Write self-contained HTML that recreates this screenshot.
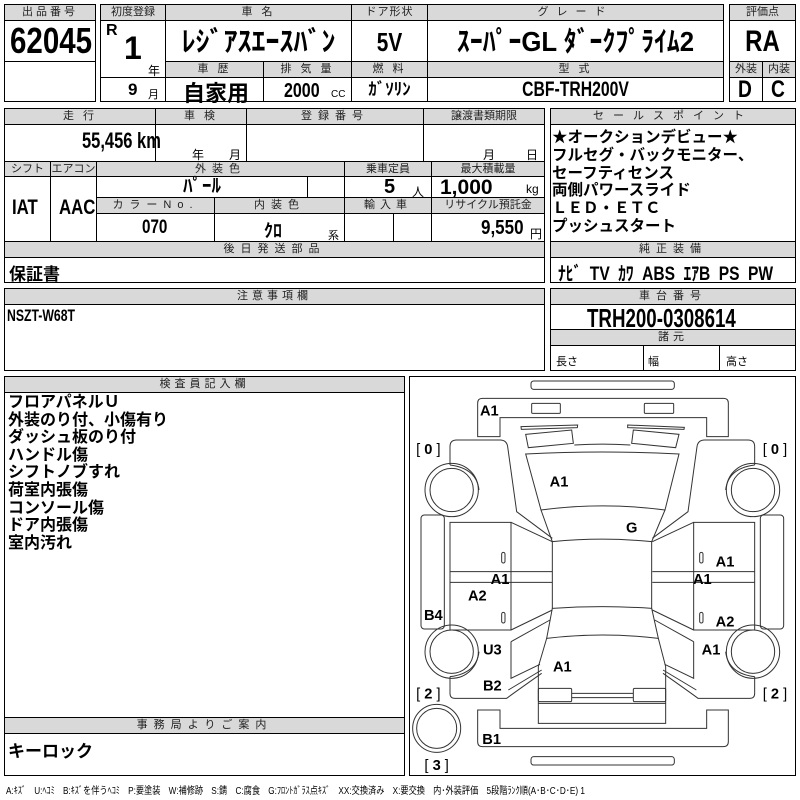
<!DOCTYPE html>
<html><head><meta charset="utf-8">
<style>
*{margin:0;padding:0;box-sizing:border-box}
body{width:800px;height:800px;background:#fff;position:relative;overflow:hidden;font-family:"Liberation Sans","Noto Sans CJK JP",sans-serif;color:#000}
.b{position:absolute;border:1px solid #000}
.o{position:absolute;border:1.5px solid #000}
.h{position:absolute;background:#d9d9d9;border:1px solid #000;font-size:11px;text-align:center;letter-spacing:3px;line-height:15px;color:#222}
.t{position:absolute;font-weight:bold;white-space:nowrap}
.n{font-family:"Liberation Sans","Noto Sans CJK JP",sans-serif;font-weight:bold;transform:scaleX(0.8);transform-origin:left center}
.s{font-size:11px;font-weight:normal;position:absolute}
.L{position:absolute;font-weight:bold;font-size:16px;line-height:17.6px}
.c{position:absolute;font-weight:bold;white-space:nowrap;text-align:center}
</style></head><body>

<!-- block 1 -->
<div class="o" style="left:4px;top:4px;width:92px;height:98px"></div>
<div class="h" style="left:4px;top:4px;width:92px;height:17px">出品番号</div>
<div class="b" style="left:4px;top:20px;width:92px;height:42px"></div>
<div class="t n" style="left:10px;top:21px;font-size:36px;line-height:40px;transform:scaleX(0.82)">62045</div>

<!-- block 2 -->
<div class="o" style="left:100px;top:4px;width:624px;height:98px"></div>
<div class="h" style="left:100px;top:4px;width:66px;height:17px;letter-spacing:0">初度登録</div>
<div class="h" style="left:165px;top:4px;width:187px;height:17px">車 名</div>
<div class="h" style="left:351px;top:4px;width:77px;height:17px;letter-spacing:1px">ドア形状</div>
<div class="h" style="left:427px;top:4px;width:297px;height:17px;letter-spacing:8px">グレード</div>
<div class="b" style="left:100px;top:20px;width:66px;height:82px"></div>
<div class="b" style="left:165px;top:20px;width:187px;height:42px"></div>
<div class="b" style="left:351px;top:20px;width:77px;height:42px"></div>
<div class="b" style="left:427px;top:20px;width:297px;height:42px"></div>
<div class="b" style="left:100px;top:77px;width:66px;height:25px"></div>
<div class="h" style="left:165px;top:61px;width:99px;height:17px">車 歴</div>
<div class="h" style="left:263px;top:61px;width:89px;height:17px">排 気 量</div>
<div class="h" style="left:351px;top:61px;width:77px;height:17px">燃 料</div>
<div class="h" style="left:427px;top:61px;width:297px;height:17px">型 式</div>
<div class="b" style="left:165px;top:77px;width:99px;height:25px"></div>
<div class="b" style="left:263px;top:77px;width:89px;height:25px"></div>
<div class="b" style="left:351px;top:77px;width:77px;height:25px"></div>
<div class="b" style="left:427px;top:77px;width:297px;height:25px"></div>
<div class="t" style="left:106px;top:22px;font-size:16px">R</div>
<div class="t" style="left:124px;top:30px;font-size:32px">1</div>
<div class="s" style="left:148px;top:62px;font-size:12px">年</div>
<div class="t" style="left:128px;top:80px;font-size:17px">9</div>
<div class="s" style="left:148px;top:86px;font-size:11px">月</div>
<div class="c" style="left:165px;top:22px;width:187px;font-size:28px;line-height:40px">ﾚｼﾞｱｽｴｰｽﾊﾞﾝ</div>
<div class="c" style="left:351px;top:22px;width:77px;font-size:26px;line-height:40px;transform:scaleX(0.8)">5V</div>
<div class="c" style="left:427px;top:22px;width:297px;font-size:28px;line-height:40px;transform:scaleX(0.92)">ｽｰﾊﾟｰGL ﾀﾞｰｸﾌﾟﾗｲﾑ2</div>
<div class="t" style="left:183px;top:76px;font-size:22px">自家用</div>
<div class="t" style="left:284px;top:80px;font-size:20px;transform:scaleX(0.8);transform-origin:left">2000</div>
<div class="s" style="left:331px;top:89px;font-size:10px">CC</div>
<div class="c" style="left:351px;top:78px;width:77px;font-size:17px;line-height:24px">ｶﾞｿﾘﾝ</div>
<div class="c" style="left:427px;top:78px;width:297px;font-size:21px;line-height:24px;transform:scaleX(0.75)">CBF-TRH200V</div>

<!-- block 3 -->
<div class="o" style="left:729px;top:4px;width:67px;height:98px"></div>
<div class="h" style="left:729px;top:4px;width:67px;height:17px;letter-spacing:0">評価点</div>
<div class="b" style="left:729px;top:20px;width:67px;height:42px"></div>
<div class="c" style="left:729px;top:22px;width:67px;font-size:30px;line-height:40px;transform:scaleX(0.8)">RA</div>
<div class="h" style="left:729px;top:61px;width:34px;height:17px;letter-spacing:0">外装</div>
<div class="h" style="left:762px;top:61px;width:34px;height:17px;letter-spacing:0">内装</div>
<div class="b" style="left:729px;top:77px;width:34px;height:25px"></div>
<div class="b" style="left:762px;top:77px;width:34px;height:25px"></div>
<div class="t" style="left:738px;top:76px;font-size:24px;transform:scaleX(0.8);transform-origin:left">D</div>
<div class="t" style="left:771px;top:76px;font-size:24px;transform:scaleX(0.8);transform-origin:left">C</div>

<!-- block row 2 -->
<div class="o" style="left:4px;top:108px;width:541px;height:175px"></div>
<div class="h" style="left:4px;top:108px;width:152px;height:17px">走 行</div>
<div class="h" style="left:155px;top:108px;width:92px;height:17px">車 検</div>
<div class="h" style="left:246px;top:108px;width:178px;height:17px;letter-spacing:6px">登録番号</div>
<div class="h" style="left:423px;top:108px;width:122px;height:17px;letter-spacing:0">譲渡書類期限</div>
<div class="b" style="left:4px;top:124px;width:152px;height:38px"></div>
<div class="b" style="left:155px;top:124px;width:92px;height:38px"></div>
<div class="b" style="left:246px;top:124px;width:178px;height:38px"></div>
<div class="b" style="left:423px;top:124px;width:122px;height:38px"></div>
<div class="t" style="left:82px;top:128px;font-size:22px;transform:scaleX(0.75);transform-origin:left">55,456 km</div>
<div class="s" style="left:192px;top:146px;font-size:12px">年</div>
<div class="s" style="left:229px;top:146px;font-size:12px">月</div>
<div class="s" style="left:483px;top:146px;font-size:12px">月</div>
<div class="s" style="left:526px;top:146px;font-size:12px">日</div>

<div class="h" style="left:4px;top:161px;width:47px;height:16px;letter-spacing:0">シフト</div>
<div class="h" style="left:50px;top:161px;width:47px;height:16px;letter-spacing:0">エアコン</div>
<div class="h" style="left:96px;top:161px;width:249px;height:16px;letter-spacing:6px">外装色</div>
<div class="h" style="left:344px;top:161px;width:88px;height:16px;letter-spacing:0">乗車定員</div>
<div class="h" style="left:431px;top:161px;width:114px;height:16px;letter-spacing:0">最大積載量</div>
<div class="b" style="left:4px;top:176px;width:47px;height:66px"></div>
<div class="b" style="left:50px;top:176px;width:47px;height:66px"></div>
<div class="b" style="left:96px;top:176px;width:212px;height:22px"></div>
<div class="b" style="left:307px;top:176px;width:38px;height:22px"></div>
<div class="b" style="left:344px;top:176px;width:88px;height:22px"></div>
<div class="b" style="left:431px;top:176px;width:114px;height:22px"></div>
<div class="t" style="left:12px;top:196px;font-size:21px;transform:scaleX(0.8);transform-origin:left">IAT</div>
<div class="t" style="left:59px;top:196px;font-size:21px;transform:scaleX(0.8);transform-origin:left">AAC</div>
<div class="c" style="left:96px;top:176px;width:212px;font-size:19px;line-height:22px">ﾊﾟｰﾙ</div>
<div class="t" style="left:384px;top:176px;font-size:20px">5</div>
<div class="s" style="left:412px;top:183px;font-size:12px">人</div>
<div class="t" style="left:440px;top:176px;font-size:21px">1,000</div>
<div class="s" style="left:526px;top:182px;font-size:12px">kg</div>

<div class="h" style="left:96px;top:197px;width:119px;height:17px;letter-spacing:6px">カラーNo.</div>
<div class="h" style="left:214px;top:197px;width:131px;height:17px;letter-spacing:6px">内装色</div>
<div class="h" style="left:344px;top:197px;width:88px;height:17px;letter-spacing:5px">輸入車</div>
<div class="h" style="left:431px;top:197px;width:114px;height:17px;letter-spacing:0">リサイクル預託金</div>
<div class="b" style="left:96px;top:213px;width:119px;height:29px"></div>
<div class="b" style="left:214px;top:213px;width:131px;height:29px"></div>
<div class="b" style="left:344px;top:213px;width:50px;height:29px"></div>
<div class="b" style="left:393px;top:213px;width:39px;height:29px"></div>
<div class="b" style="left:431px;top:213px;width:114px;height:29px"></div>
<div class="t" style="left:142px;top:217px;font-size:19px;transform:scaleX(0.8);transform-origin:left">070</div>
<div class="t" style="left:264px;top:217px;font-size:18px">ｸﾛ</div>
<div class="s" style="left:328px;top:227px;font-size:11px">系</div>
<div class="t" style="left:481px;top:217px;font-size:20px;transform:scaleX(0.85);transform-origin:left">9,550</div>
<div class="s" style="left:530px;top:225px;font-size:12px">円</div>
<div class="h" style="left:4px;top:241px;width:541px;height:17px;letter-spacing:6px">後日発送部品</div>
<div class="t" style="left:9px;top:260px;font-size:17px">保証書</div>

<!-- sales point -->
<div class="o" style="left:550px;top:108px;width:246px;height:175px"></div>
<div class="h" style="left:550px;top:108px;width:246px;height:17px;letter-spacing:9px">セールスポイント</div>
<div class="L" style="left:552px;top:129px;line-height:17.8px;font-size:15.5px">★オークションデビュー★<br>フルセグ・バックモニター、<br>セーフティセンス<br>両側パワースライド<br>ＬＥＤ・ＥＴＣ<br>プッシュスタート</div>
<div class="h" style="left:550px;top:241px;width:246px;height:17px;letter-spacing:6px">純正装備</div>
<div class="t" style="left:558px;top:259px;font-size:19px;transform:scaleX(0.82);transform-origin:left;word-spacing:5px">ﾅﾋﾞ TV ｶﾜ ABS ｴｱB PS PW</div>

<!-- 注意事項 -->
<div class="o" style="left:4px;top:288px;width:541px;height:83px"></div>
<div class="h" style="left:4px;top:288px;width:541px;height:17px;letter-spacing:4px">注意事項欄</div>
<div class="t" style="left:7px;top:306px;font-size:17px;transform:scaleX(0.72);transform-origin:left">NSZT-W68T</div>

<!-- 車台番号 -->
<div class="o" style="left:550px;top:288px;width:246px;height:83px"></div>
<div class="h" style="left:550px;top:288px;width:246px;height:17px;letter-spacing:6px">車台番号</div>
<div class="t" style="left:587px;top:303px;font-size:26px;transform:scaleX(0.72);transform-origin:left">TRH200-0308614</div>
<div class="h" style="left:550px;top:329px;width:246px;height:17px;letter-spacing:4px">諸元</div>
<div class="b" style="left:550px;top:345px;width:94px;height:26px"></div>
<div class="b" style="left:643px;top:345px;width:77px;height:26px"></div>
<div class="s" style="left:556px;top:353px">長さ</div>
<div class="s" style="left:648px;top:353px">幅</div>
<div class="s" style="left:726px;top:353px">高さ</div>

<!-- 検査員記入欄 -->
<div class="o" style="left:4px;top:376px;width:401px;height:400px"></div>
<div class="h" style="left:4px;top:376px;width:401px;height:17px;letter-spacing:4px">検査員記入欄</div>
<div class="L" style="left:8px;top:394px">フロアパネルＵ<br>外装のり付、小傷有り<br>ダッシュ板のり付<br>ハンドル傷<br>シフトノブすれ<br>荷室内張傷<br>コンソール傷<br>ドア内張傷<br>室内汚れ</div>
<div class="h" style="left:4px;top:717px;width:401px;height:17px;letter-spacing:6px">事務局よりご案内</div>
<div class="t" style="left:8px;top:737px;font-size:17px">キーロック</div>

<!-- diagram -->
<div class="o" style="left:409px;top:376px;width:387px;height:400px"></div>
<svg style="position:absolute;left:405px;top:375px" width="395" height="400" viewBox="0 0 1185 1200">
<g fill="none" stroke="#333" stroke-width="3">
<rect x="378" y="18" width="430" height="25" rx="8"/>
<rect x="378" y="1145" width="430" height="25" rx="8"/>
<path d="M232,70 L956,70 Q970,70 970,84 L970,185 L905,185 L905,128 L285,128 L285,185 L218,185 L218,84 Q218,70 232,70 Z"/>
<rect x="380" y="85" width="86" height="30" rx="3"/>
<rect x="718" y="85" width="88" height="30" rx="3"/>
<path d="M348,155 L518,150 L517,158 L349,163 Z"/>
<path d="M668,150 L838,157 L837,163 L668,158 Z"/>
<path d="M362,178 L500,165 L505,205 L370,218 Z"/>
<path d="M685,165 L822,178 L812,218 L680,205 Z"/>
<path d="M508,210 Q592,205 676,210"/>
<path d="M362,237 Q592,225 822,237 L780,405 Q592,380 408,405 Z"/>
<path d="M408,405 L442,500 Q592,485 740,500 L780,405"/>
<path d="M442,500 L442,700 Q592,690 740,700 L740,500"/>
<path d="M442,700 L425,790 Q592,770 760,790 L740,700"/>
<path d="M425,790 L400,875 L400,1045 L782,1045 L782,875 L760,790"/>
<rect x="400" y="940" width="100" height="40" rx="4"/>
<rect x="685" y="940" width="97" height="40" rx="4"/>
<path d="M500,955 L685,955 M500,968 L685,968 M400,985 L782,985"/>
<path d="M218,1005 L285,1005 L285,1060 L905,1060 L905,1005 L970,1005 L970,1100 Q970,1115 955,1115 L232,1115 Q218,1115 218,1100 Z"/>
<g id="side">
<path d="M135,270 L135,215 Q135,195 155,195 L285,195 Q305,195 308,215 L335,410 L442,490"/>
<path d="M135,270 Q215,280 222,345"/>
<circle cx="140" cy="345" r="80"/>
<circle cx="140" cy="345" r="65"/>
<rect x="48" y="420" width="70" height="342" rx="10"/>
<path d="M135,442 L318,442 L318,765 L135,765 Z"/>
<path d="M135,590 L442,590 M135,622 L442,622"/>
<path d="M318,442 L442,500 M318,765 L442,705"/>
<rect x="290" y="532" width="10" height="32" rx="5"/>
<rect x="290" y="712" width="10" height="32" rx="5"/>
<path d="M318,800 L435,735 M318,800 L318,910 L405,868 M310,945 L410,885"/>
<path d="M135,905 L135,955 Q135,970 150,970 L305,970 Q318,960 410,895"/>
<path d="M135,905 Q215,895 222,830"/>
<circle cx="140" cy="830" r="80"/>
<circle cx="140" cy="830" r="65"/>
</g>
<use href="#side" transform="translate(1184,0) scale(-1,1)"/>
<circle cx="95" cy="1060" r="72"/>
<circle cx="95" cy="1060" r="60"/>
</g>
<g font-family="Liberation Sans, sans-serif" font-weight="bold" font-size="44" fill="#000" text-anchor="middle">
<text x="253" y="122">A1</text>
<text x="462" y="335">A1</text>
<text x="680" y="472">G</text>
<text x="285" y="627">A1</text>
<text x="217" y="677">A2</text>
<text x="85" y="735">B4</text>
<text x="960" y="574">A1</text>
<text x="892" y="627">A1</text>
<text x="960" y="754">A2</text>
<text x="262" y="839">U3</text>
<text x="918" y="839">A1</text>
<text x="472" y="889">A1</text>
<text x="262" y="947">B2</text>
<text x="260" y="1107">B1</text>
</g>
<g font-family="Liberation Sans, sans-serif" font-size="44" fill="#000" text-anchor="middle">
<text x="70" y="237">[ <tspan font-weight="bold">0</tspan> ]</text>
<text x="1110" y="237">[ <tspan font-weight="bold">0</tspan> ]</text>
<text x="70" y="970">[ <tspan font-weight="bold">2</tspan> ]</text>
<text x="1110" y="970">[ <tspan font-weight="bold">2</tspan> ]</text>
<text x="95" y="1185">[ <tspan font-weight="bold">3</tspan> ]</text>
</g>
</svg>

<div class="s" style="left:6px;top:782px;font-size:10px;transform:scaleX(0.82);transform-origin:left;white-space:nowrap">A:ｷｽﾞ　U:ﾍｺﾐ　B:ｷｽﾞを伴うﾍｺﾐ　P:要塗装　W:補修跡　S:錆　C:腐食　G:ﾌﾛﾝﾄｶﾞﾗｽ点ｷｽﾞ　XX:交換済み　X:要交換　内･外装評価　5段階ﾗﾝｸ順(A･B･C･D･E) 1</div>
</body></html>
